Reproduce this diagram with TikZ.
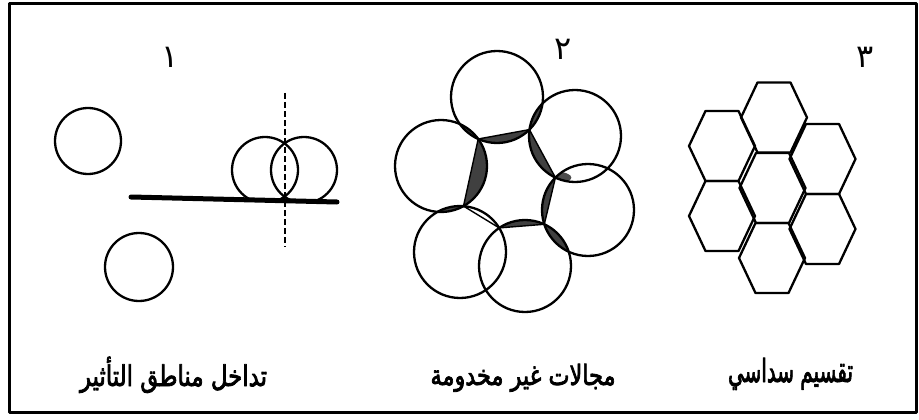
\documentclass[tikz,border=0pt]{standalone}
\usepackage{fontspec}
\newfontfamily\arabicfont[Script=Arabic,FakeBold=3]{DejaVu Sans}
\newfontfamily\numfont[Script=Arabic]{DejaVu Sans}
\TeXXeTstate=1
\begin{document}
\begin{tikzpicture}[x=1pt,y=-1pt,
  line join=round, line cap=round,
  frameline/.style={line width=3pt},
  shapeline/.style={line width=2.3pt},
  hexline/.style={line width=2.3pt},
  flw/.style={line width=2.3pt},
  darkfill/.style={fill=black!75},
  numlabel/.style={font=\numfont\fontsize{32}{34}\selectfont, anchor=base, inner sep=0pt},
  caption/.style={anchor=base, inner sep=0pt}]
\useasboundingbox (0,0) rectangle (919,420);
% frame
\draw[frameline] (9.5,3.5) rectangle (916,412.5);

% ---------- panel 1 ----------
\node[numlabel] (n1) at (170,67) {\beginR ١\endR};
\draw[shapeline] (88,141) circle (33);
\draw[shapeline] (139,267) circle (34);
\begin{scope}
  \clip (200,100) rectangle (360,199);
  \draw[shapeline] (265,170) circle (33);
  \draw[shapeline] (304,170) circle (33);
\end{scope}
\coordinate (lineL) at (131,197);
\coordinate (lineR) at (337,202);
\draw[line width=5pt, line cap=round] (lineL) -- (lineR);
\coordinate (dashT) at (285,93);
\coordinate (dashB) at (285,247);
\draw[line width=2pt, dash pattern=on 6pt off 3pt, line cap=butt] (dashT) -- (dashB);
\node[caption] (c1) at (173.5,386) {\scalebox{1}[1.25]{\resizebox{187pt}{!}{\arabicfont\beginR تداخل مناطق التأثير\endR}}};

% ---------- panel 2 ----------
\node[numlabel] (n2) at (563,60) {\beginR ٢\endR};
\def\rr{46}
\coordinate (cT)  at (497,97);
\coordinate (cUR) at (575,136);
\coordinate (cR)  at (588,210);
\coordinate (cB)  at (525,266);
\coordinate (cLL) at (460,252);
\coordinate (cL)  at (441,166);
% inner gap vertices (neighbour intersections)
\coordinate (A) at (478.2,139.0);
\coordinate (B) at (529.4,129.6);
\coordinate (C) at (555.4,177.6);
\coordinate (D) at (544.3,224.3);
\coordinate (E) at (499.2,227.9);
\coordinate (F) at (463.5,206.1);
% dark overlap bands between neighbours
\foreach \p/\q in {cT/cUR, cR/cB, cLL/cL, cL/cT}{
  \begin{scope}
    \clip (\p) circle (\rr);
    \fill[darkfill] (\q) circle (\rr);
  \end{scope}
}
% partially dark UR-R lens
\begin{scope}
  \clip (cUR) circle (\rr);
  \clip (cR) circle (\rr);
  \fill[black!70] (C) ellipse (16 and 6);
\end{scope}
% dark segments along the central gap
\begin{scope}
  \clip (A) -- (B) -- (C) -- (D) -- (E) -- (F) -- cycle;
  \foreach \c in {cT, cUR, cR, cB, cL}
    \fill[darkfill] (\c) circle (\rr);
\end{scope}
% circles
\foreach \c in {cT, cUR, cR, cB, cLL, cL}
  \draw[flw] (\c) circle (\rr);
% chord edges of the gap
\draw[line width=1.4pt] (A) -- (B) -- (C) -- (D) -- (E) -- (F) -- cycle;
\node[caption] (c2) at (523,385) {\scalebox{1}[1.25]{\resizebox{185pt}{!}{\arabicfont\beginR مجالات غير مخدومة\endR}}};

% ---------- panel 3 ----------
\node[numlabel] (n3) at (865,67) {\beginR ٣\endR};
\foreach \cx/\cy in {774/117.5, 722/146, 822.5/159, 772.5/188, 722/216, 822.5/229, 772/258}
  \draw[hexline, shift={(\cx,\cy)}] (-33,0) -- (-16.5,-35) -- (16.5,-35) -- (33,0) -- (16.5,35) -- (-16.5,35) -- cycle;
\node[caption] (c3) at (790.5,382) {\scalebox{1}[1.6]{\resizebox{125pt}{!}{\arabicfont\beginR تقسيم سداسي\endR}}};
\end{tikzpicture}
\end{document}
